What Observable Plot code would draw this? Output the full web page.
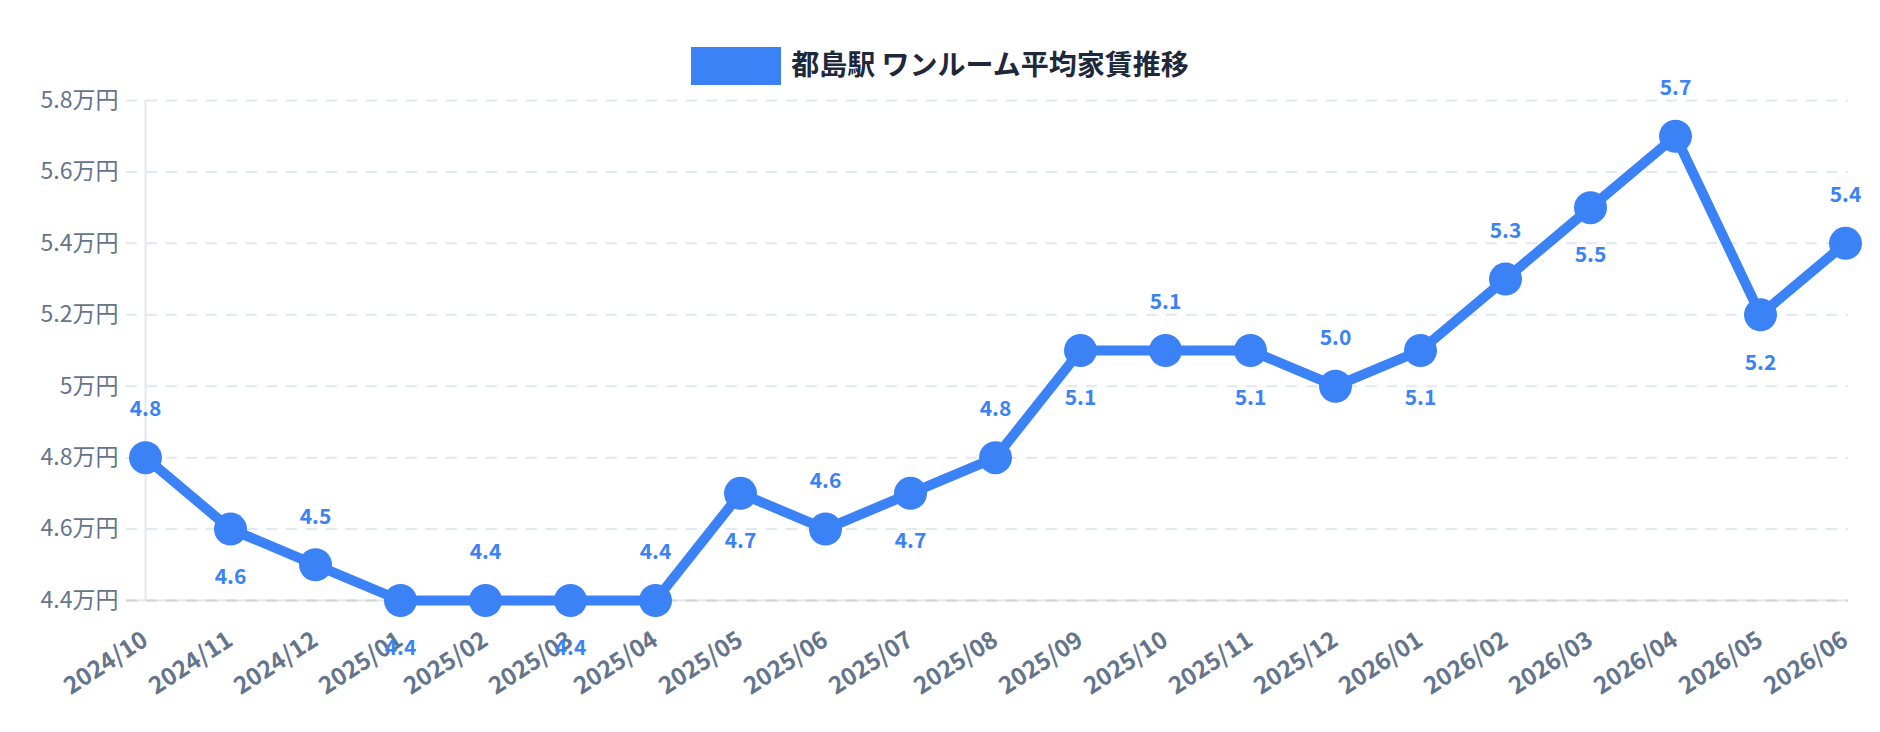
<!DOCTYPE html>
<html>
<head>
<meta charset="utf-8">
<script src="https://cdn.jsdelivr.net/npm/d3@7"></script>
<script src="https://cdn.jsdelivr.net/npm/@observablehq/plot@0.6"></script>
<style>
  html, body { margin: 0; padding: 0; background: #ffffff; }
  body { width: 1880px; height: 732px; overflow: hidden; font-family: "Noto Sans CJK JP", "Noto Sans", sans-serif; }
  #legend { position: relative; height: 86px; }
  #legend .row { position: absolute; top: 47px; left: 0; width: 1880px; display: flex; justify-content: center; align-items: center; height: 38px; }
  #legend .swatch { width: 90px; height: 38px; background: #3b82f6; margin-right: 10px; }
  #legend .label { font-size: 28px; font-weight: 700; color: #1e293b; line-height: 38px; position: relative; top: -3px; white-space: nowrap; }
  #chart svg { display: block; overflow: visible; }
</style>
</head>
<body>
<div id="legend"><div class="row"><div class="swatch"></div><div class="label" id="legend-label"></div></div></div>
<div id="chart"></div>
<script>
// ---- data ----
const seriesName = "都島駅 ワンルーム平均家賃推移";
const months = ["2024/10","2024/11","2024/12","2025/01","2025/02","2025/03","2025/04","2025/05","2025/06","2025/07","2025/08","2025/09","2025/10","2025/11","2025/12","2026/01","2026/02","2026/03","2026/04","2026/05","2026/06"];
const rents = [4.8,4.6,4.5,4.4,4.4,4.4,4.4,4.7,4.6,4.7,4.8,5.1,5.1,5.1,5.0,5.1,5.3,5.5,5.7,5.2,5.4];
const labelSide = ["above","below","above","below","above","below","above","below","above","below","above","below","above","below","above","below","above","below","above","below","above"];
const yTicks = [4.4,4.6,4.8,5.0,5.2,5.4,5.6,5.8];
const yTickUnit = "万円";

document.getElementById("legend-label").textContent = seriesName;

const table = months.map((m, i) => ({month: m, rent: rents[i], side: labelSide[i]}));
const above = table.filter(d => d.side === "above");
const below = table.filter(d => d.side === "below");

const blue = "#3b82f6";
const tickColor = "#64748b";
const gridColor = "#e2e8f0";

const chart = Plot.plot({
  width: 1880,
  height: 646,
  marginTop: 14,
  marginBottom: 132,
  marginLeft: 142,
  marginRight: 32,
  style: {fontFamily: '"Noto Sans CJK JP", "Noto Sans", sans-serif', overflow: "visible", background: "transparent"},
  x: {type: "point", domain: months, padding: 0},
  y: {domain: [yTicks[0], yTicks[yTicks.length - 1]]},
  marks: [
    Plot.ruleY(yTicks.slice(1), {stroke: gridColor, strokeWidth: 2, strokeDasharray: "11,9", insetLeft: -16}),
    Plot.ruleY([yTicks[0]], {stroke: "#e5e7eb", strokeWidth: 2, insetLeft: -16}),
    Plot.ruleY([yTicks[0]], {stroke: "#cbd5e1", strokeWidth: 2, strokeDasharray: "11,9", insetLeft: -16}),
    Plot.ruleX([months[0]], {y1: yTicks[0], y2: yTicks[yTicks.length - 1], stroke: gridColor, strokeWidth: 2}),
    Plot.axisY({
      ticks: yTicks,
      tickFormat: d => String(+d.toFixed(1)) + yTickUnit,
      tickSize: 0,
      tickPadding: 24,
      fontSize: 23,
      fill: tickColor,
      label: null
    }),
    Plot.axisX({
      tickRotate: -33,
      tickSize: 0,
      tickPadding: 37,
      fontSize: 24,
      fontWeight: 700,
      fill: tickColor,
      label: null
    }),
    Plot.lineY(table, {x: "month", y: "rent", stroke: blue, strokeWidth: 10, strokeLinejoin: "round"}),
    Plot.dot(table, {x: "month", y: "rent", r: 16.5, fill: blue}),
    Plot.text(above, {x: "month", y: "rent", text: d => d.rent.toFixed(1), dy: -48, fill: blue, fontSize: 21, fontWeight: 700}),
    Plot.text(below, {x: "month", y: "rent", text: d => d.rent.toFixed(1), dy: 48, fill: blue, fontSize: 21, fontWeight: 700})
  ]
});
document.getElementById("chart").appendChild(chart);
</script>
</body>
</html>
